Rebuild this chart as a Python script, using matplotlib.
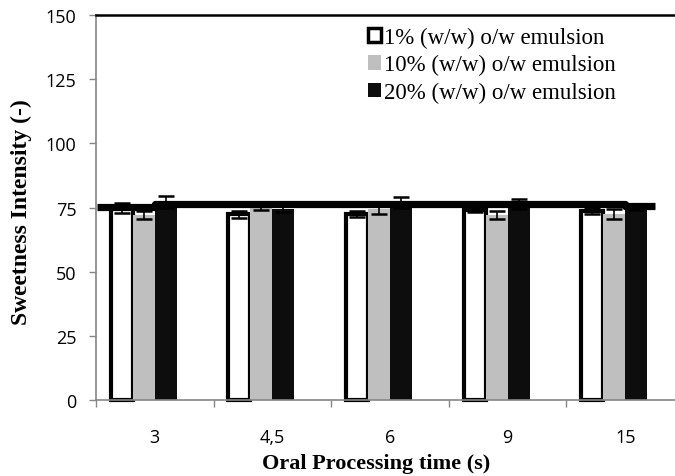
import matplotlib
matplotlib.use("Agg")
import matplotlib.pyplot as plt
from matplotlib.patches import Rectangle
import numpy as np

# Data
times = ["3", "4,5", "6", "9", "15"]
series_names = ["1% (w/w) o/w emulsion", "10% (w/w) o/w emulsion", "20% (w/w) o/w emulsion"]
sweet_1 = [74.8, 72.3, 72.6, 74.0, 73.5]
sweet_10 = [72.0, 75.0, 74.5, 72.0, 72.5]
sweet_20 = [77.0, 74.5, 77.0, 76.5, 75.0]
err_1 = [2.0, 1.4, 1.2, 0.8, 1.2]
err_10 = [1.6, 1.0, 2.0, 1.5, 2.0]
err_20 = [2.3, 1.3, 2.0, 2.0, 1.0]

# Overall level line, piecewise (start, end in category units, level)
level_segments = [(-0.49, 0.0, 75.2), (0.0, 4.0, 76.2), (4.0, 4.25, 75.6)]

serif = ["Liberation Serif", "DejaVu Serif"]
sans = ["Open Sans", "DejaVu Sans"]

fig = plt.figure(figsize=(6.75, 4.77), dpi=100)
ax = fig.add_axes([96 / 675, 76 / 477, 588 / 675, 385 / 477])

x = np.arange(len(times))
w = 0.187
offsets = [-1.5 * w, -0.5 * w, 0.5 * w]

ax.bar(x + offsets[0], sweet_1, w, color="white", edgecolor="black",
       linewidth=3, clip_on=False, zorder=2)
ax.bar(x + offsets[1], sweet_10, w, color="#BFBFBF", linewidth=0, zorder=2)
ax.bar(x + offsets[2], sweet_20, w, color="#0D0D0D", linewidth=0, zorder=2)

for off, vals, errs in zip(offsets, [sweet_1, sweet_10, sweet_20], [err_1, err_10, err_20]):
    ax.errorbar(x + off, vals, yerr=errs, fmt="none", ecolor="black",
                elinewidth=1.2, capsize=6, capthick=1.8, zorder=3)

xs, ys = [], []
for s, e, lvl in level_segments:
    xs += [s, e]
    ys += [lvl, lvl]
ax.plot(xs, ys, color="black", linewidth=5.2, solid_joinstyle="round",
        solid_capstyle="butt", zorder=4)

ax.set_xlim(-0.5, 4.5)
ax.set_ylim(0, 150)
ax.set_yticks(np.arange(0, 151, 25))
ax.set_xticks(x)
ax.set_xticklabels(times)
ax.set_xticks(np.arange(-0.5, 4.51, 1), minor=True)

ax.tick_params(axis="x", which="major", length=0, pad=20, labelsize=13)
ax.tick_params(axis="x", which="minor", length=5, width=1, color="#868686", direction="out")
ax.tick_params(axis="y", length=5, width=1, color="#868686", direction="out",
               pad=9, labelsize=13)
for lbl in ax.get_xticklabels() + ax.get_yticklabels():
    lbl.set_family(sans)

for side in ["left", "bottom"]:
    ax.spines[side].set_color("#868686")
    ax.spines[side].set_linewidth(1.2)
ax.spines["right"].set_visible(False)
ax.spines["top"].set_color("black")
ax.spines["top"].set_linewidth(1.8)

ax.set_xlabel("Oral Processing time (s)", family=serif, fontweight="bold", fontsize=16)
ax.xaxis.set_label_coords(0.476, -0.138)
ax.set_ylabel("Sweetness Intensity (-)", family=serif, fontweight="bold", fontsize=17)
ax.yaxis.set_label_coords(-0.109, 0.49)

handles = [
    Rectangle((0, 0), 1, 1, facecolor="white", edgecolor="black", linewidth=2.5),
    Rectangle((0, 0), 1, 1, facecolor="#BFBFBF", linewidth=0),
    Rectangle((0, 0), 1, 1, facecolor="#0D0D0D", linewidth=0),
]
leg = ax.legend(handles, series_names, loc="upper left",
                bbox_to_anchor=(272 / 588, 1 - 12 / 385), frameon=False,
                prop={"family": serif, "size": 16.5}, handlelength=0.58,
                handleheight=0.58, handletextpad=0.1, labelspacing=0.27,
                borderaxespad=0, borderpad=0)

fig.savefig("out.png", dpi=100)
